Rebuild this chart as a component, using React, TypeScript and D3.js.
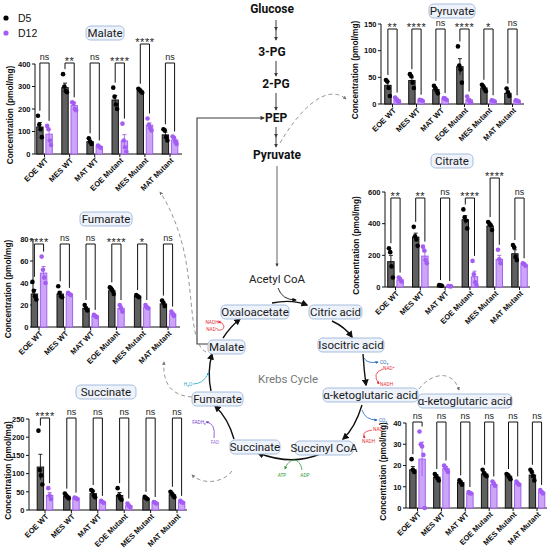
import React from "react";
import * as d3 from "d3";

const categories = ["EOE WT", "MES WT", "MAT WT", "EOE Mutant", "MES Mutant", "MAT Mutant"];

// Malate
const malateD5 = [120, 295, 55, 240, 280, 85];
const malateD12 = [88, 215, 33, 58, 128, 62];
const malateD5Sem = [20, 20, 5, 20, 5, 12];
const malateD12Sem = [20, 15, 3, 28, 10, 6];
const malateD5Pts = [[170, 130, 110, 75], [355, 300, 280, 275], [70, 55, 45], [295, 255, 220, 200], [290, 285, 278, 272], [110, 105, 75, 60]];
const malateD12Pts = [[125, 110, 60, 40], [230, 225, 200, 195], [38, 32, 28], [135, 60, 30, 10], [158, 130, 115, 105], [78, 72, 55, 45]];
const malateSig = ["ns", "**", "ns", "****", "****", "ns"];

// Pyruvate
const pyruvateD5 = [35, 44, 27, 70, 30, 20];
const pyruvateD12 = [8, 7, 9, 8, 6, 6];
const pyruvateD5Sem = [7, 5, 3, 15, 3, 4];
const pyruvateD12Sem = [2, 1, 1, 2, 1, 1];
const pyruvateD5Pts = [[45, 42, 30, 15], [56, 52, 40, 30], [34, 30, 25, 20], [108, 72, 65, 40], [36, 33, 28, 24], [29, 22, 15]];
const pyruvateD12Pts = [[12, 9, 5, 4], [8, 7, 6], [11, 10, 8], [14, 8, 4, 3], [7, 6, 5], [7, 6, 5]];
const pyruvateSig = ["**", "****", "ns", "****", "*", "ns"];

// Fumarate
const fumarateD5 = [30, 30, 17, 33, 28, 21];
const fumarateD12 = [49, 30, 10, 17, 18, 12];
const fumarateD5Sem = [4, 2, 1, 2, 1, 1.5];
const fumarateD12Sem = [6, 1, 1, 2, 1, 1.5];
const fumarateD5Pts = [[41, 33, 28, 25], [37, 31, 28, 27], [20, 17, 15], [36, 35, 33, 30], [29, 28, 27], [24, 22, 19]];
const fumarateD12Pts = [[64, 52, 45, 40], [31, 30, 29], [11, 10, 9], [20, 17, 14], [20, 18, 17], [14, 12, 10]];
const fumarateSig = ["****", "ns", "ns", "****", "*", "ns"];

// Citrate
const citrateD5 = [160, 315, 10, 425, 385, 210];
const citrateD12 = [45, 195, 5, 65, 175, 140];
const citrateD5Sem = [40, 25, 1, 25, 12, 25];
const citrateD12Sem = [8, 30, 1, 35, 25, 5];
const citrateD5Pts = [[245, 220, 130, 60], [380, 320, 300, 260], [12, 10, 8], [490, 440, 420, 370], [410, 400, 390, 360], [265, 250, 190, 170]];
const citrateD12Pts = [[60, 50, 35], [255, 230, 170, 150], [6, 5, 4], [165, 80, 30, 10], [235, 175, 150], [150, 145, 135]];
const citrateSig = ["**", "**", "ns", "****", "****", "ns"];

// Succinate
const succinateD5 = [118, 38, 45, 40, 32, 42];
const succinateD12 = [40, 32, 22, 12, 20, 22];
const succinateD5Sem = [35, 3, 7, 8, 2, 4];
const succinateD12Sem = [8, 1, 1, 3, 1, 1];
const succinateD5Pts = [[218, 110, 95, 70], [45, 40, 35, 32], [55, 52, 40, 35], [60, 40, 32, 28], [36, 33, 30], [50, 45, 40, 35]];
const succinateD12Pts = [[60, 40, 30], [34, 32, 30], [25, 22, 20], [18, 12, 8], [22, 20, 18], [25, 22, 20]];
const succinateSig = ["****", "ns", "ns", "ns", "ns", "ns"];

// alpha-ketoglutaric acid
const akgD5 = [18, 14.5, 12, 16, 15, 15.5];
const akgD12 = [23, 18.5, 7, 11, 11.5, 7.5];
const akgD5Sem = [1.5, 1, 0.8, 0.8, 0.8, 1];
const akgD12Sem = [8, 1, 0.3, 0.7, 0.5, 0.5];
const akgD5Pts = [[23, 18, 17], [16, 15, 14, 13], [13, 12, 11], [18, 16.5, 15.5, 15], [16, 15.5, 14.5, 13.5], [18, 17, 15, 13]];
const akgD12Pts = [[36, 30, 29, 25, 0], [20, 19, 18, 17], [7.5, 7, 6.8], [12.5, 11.5, 10.5], [12.5, 11.5, 11], [8.5, 7.5, 6.8]];
const akgSig = ["ns", "ns", "ns", "ns", "ns", "ns"];

const FONT = "'Liberation Sans', Arial, Helvetica, sans-serif";
const DFONT = "Roboto, 'Liberation Sans', Arial, sans-serif";
const D5_FILL = "#5f5f5f";
const D5_STROKE = "#111";
const D12_FILL = "#cba6f7";
const D12_STROKE = "#a55ff2";
const D12_PT = "#a45df3";
const BOX_FILL = "#edf2fb";
const BOX_STROKE = "#9db5da";

type Layout = {
  max: number; step: number; axisX: number; axisEnd: number; y0: number; yTop: number;
  c0: number; c1: number; titleX: number; titleY: number; titleW: number; labelX: number;
  bracketY: number; highIdx?: number; highY?: number;
};

const layouts: Record<string, Layout> = {
  malate: { max: 400, step: 100, axisX: 35, axisEnd: 182, y0: 154, yTop: 64, c0: 44.5, c1: 170, titleX: 105, titleY: 33, titleW: 38, labelX: 13, bracketY: 63, highIdx: 4, highY: 44 },
  pyruvate: { max: 150, step: 50, axisX: 381, axisEnd: 524, y0: 104, yTop: 24, c0: 392.5, c1: 512.5, titleX: 452, titleY: 11, titleW: 46, labelX: 358, bracketY: 29 },
  fumarate: { max: 80, step: 20, axisX: 33, axisEnd: 180, y0: 327, yTop: 239, c0: 39, c1: 168, titleX: 106, titleY: 219, titleW: 52, labelX: 11, bracketY: 244 },
  citrate: { max: 600, step: 200, axisX: 385, axisEnd: 530, y0: 287, yTop: 192, c0: 395.5, c1: 519.5, titleX: 452, titleY: 161, titleW: 42, labelX: 359, bracketY: 198, highIdx: 4, highY: 178 },
  succinate: { max: 250, step: 50, axisX: 29, axisEnd: 187, y0: 510, yTop: 419, c0: 45, c1: 177, titleX: 106, titleY: 392, titleW: 60, labelX: 11, bracketY: 418 },
  akg: { max: 40, step: 10, axisX: 406, axisEnd: 547, y0: 508, yTop: 423, c0: 417.5, c1: 537, titleX: 465, titleY: 401, titleW: 94, labelX: 386, bracketY: 422 },
};

function BoxLabel({ x, y, w, text, size = 11.5 }: { x: number; y: number; w: number; text: string; size?: number }) {
  return (
    <g>
      <rect x={x - w / 2} y={y - 7} width={w} height={14} rx={4.5} fill={BOX_FILL} stroke={BOX_STROKE} strokeWidth={0.9} />
      <text x={x} y={y + 4} textAnchor="middle" fontFamily={DFONT} fontSize={size} fill="#1a1a1a">{text}</text>
    </g>
  );
}

function Panel({ title, d5, d12, d5Sem, d12Sem, d5Pts, d12Pts, sig, L }: any) {
  const L2 = L as Layout;
  const y = d3.scaleLinear().domain([0, L2.max]).range([L2.y0, L2.yTop]);
  const x = d3.scalePoint<string>().domain(categories).range([L2.c0, L2.c1]);
  const ticks = d3.range(0, L2.max + 1e-9, L2.step);
  const off = 4.6;
  const bw = 6.4;
  return (
    <g>
      <BoxLabel x={L2.titleX} y={L2.titleY} w={L2.titleW} text={title} />
      {/* y axis */}
      <line x1={L2.axisX} x2={L2.axisX} y1={L2.y0} y2={L2.yTop} stroke="#111" strokeWidth={1} />
      {ticks.map((t) => (
        <g key={t}>
          <line x1={L2.axisX - 3} x2={L2.axisX} y1={y(t)} y2={y(t)} stroke="#111" strokeWidth={1} />
          <text x={L2.axisX - 4.5} y={y(t) + 2.8} textAnchor="end" fontFamily={FONT} fontWeight="bold" fontSize={7.5} fill="#111">{t}</text>
        </g>
      ))}
      <text transform={`translate(${L2.labelX},${(L2.y0 + L2.yTop) / 2 + 6}) rotate(-90)`} textAnchor="middle" fontFamily={FONT} fontWeight="bold" fontSize={8.3} fill="#111">Concentration (pmol/mg)</text>
      {/* x axis */}
      <line x1={L2.axisX} x2={L2.axisEnd} y1={L2.y0} y2={L2.y0} stroke="#111" strokeWidth={1} />
      {categories.map((c, i) => {
        const cx = x(c)!;
        const xa = cx - off;
        const xb = cx + off;
        const topA = Math.max(d5[i] + d5Sem[i], ...d5Pts[i]);
        const topB = Math.max(d12[i] + d12Sem[i], ...d12Pts[i]);
        const by = L2.highIdx === i ? L2.highY! : L2.bracketY;
        const legA = Math.min(y(topA) - 5, L2.y0 - 6);
        const legB = Math.min(y(topB) - 5, L2.y0 - 6);
        const isStar = sig[i] !== "ns";
        return (
          <g key={c}>
            <line x1={cx} x2={cx} y1={L2.y0} y2={L2.y0 + 3} stroke="#111" strokeWidth={1} />
            {/* D5 */}
            <rect x={xa - bw / 2} y={y(d5[i])} width={bw} height={L2.y0 - y(d5[i])} fill={D5_FILL} stroke={D5_STROKE} strokeWidth={1} />
            <line x1={xa} x2={xa} y1={y(d5[i] - d5Sem[i])} y2={y(d5[i] + d5Sem[i])} stroke={D5_STROKE} strokeWidth={0.9} />
            <line x1={xa - 2} x2={xa + 2} y1={y(d5[i] + d5Sem[i])} y2={y(d5[i] + d5Sem[i])} stroke={D5_STROKE} strokeWidth={0.9} />
            {d5Pts[i].map((p: number, j: number) => (
              <circle key={j} cx={xa + (j - (d5Pts[i].length - 1) / 2) * 1.3} cy={y(p)} r={2.3} fill="#000" />
            ))}
            {/* D12 */}
            <rect x={xb - bw / 2} y={y(d12[i])} width={bw} height={L2.y0 - y(d12[i])} fill={D12_FILL} stroke={D12_STROKE} strokeWidth={1} />
            <line x1={xb} x2={xb} y1={y(Math.max(0, d12[i] - d12Sem[i]))} y2={y(d12[i] + d12Sem[i])} stroke={D12_STROKE} strokeWidth={0.9} />
            <line x1={xb - 2} x2={xb + 2} y1={y(d12[i] + d12Sem[i])} y2={y(d12[i] + d12Sem[i])} stroke={D12_STROKE} strokeWidth={0.9} />
            {d12Pts[i].map((p: number, j: number) => (
              <circle key={j} cx={xb + (j - (d12Pts[i].length - 1) / 2) * 1.3} cy={y(p)} r={2.3} fill={D12_PT} />
            ))}
            {/* bracket */}
            <path d={`M${xa},${legA}V${by}H${xb}V${legB}`} fill="none" stroke="#111" strokeWidth={1} />
            <text x={cx} y={isStar ? by + 1.5 : by - 3} textAnchor="middle" fontFamily={FONT} fontSize={isStar ? 11 : 9} letterSpacing={isStar ? 0.6 : 0} fill="#222">{sig[i]}</text>
            {/* x label */}
            <text transform={`translate(${cx + 4},${L2.y0 + 7}) rotate(-45)`} textAnchor="end" fontFamily={FONT} fontWeight="bold" fontSize={7.6} fill="#111">{c}</text>
          </g>
        );
      })}
    </g>
  );
}

function Pathway() {
  const dk = "#3a3a3a";
  return (
    <g>
      <defs>
        <marker id="ah" viewBox="0 0 10 10" refX="8" refY="5" markerWidth="5" markerHeight="5" orient="auto">
          <path d="M0,0L10,5L0,10z" fill="#111" />
        </marker>
        <marker id="ahg" viewBox="0 0 10 10" refX="8" refY="5" markerWidth="4" markerHeight="4" orient="auto">
          <path d="M0,0L10,5L0,10z" fill={dk} />
        </marker>
        <marker id="ahd" viewBox="0 0 10 10" refX="8" refY="5" markerWidth="4" markerHeight="4" orient="auto">
          <path d="M0,0L10,5L0,10z" fill="#777" />
        </marker>
        <marker id="ahr" viewBox="0 0 10 10" refX="8" refY="5" markerWidth="4" markerHeight="4" orient="auto">
          <path d="M0,0L10,5L0,10z" fill="#e8333d" />
        </marker>
        <marker id="ahb" viewBox="0 0 10 10" refX="8" refY="5" markerWidth="4" markerHeight="4" orient="auto">
          <path d="M0,0L10,5L0,10z" fill="#2266b8" />
        </marker>
        <marker id="ahgr" viewBox="0 0 10 10" refX="8" refY="5" markerWidth="4" markerHeight="4" orient="auto">
          <path d="M0,0L10,5L0,10z" fill="#2f9a35" />
        </marker>
        <marker id="ahp" viewBox="0 0 10 10" refX="8" refY="5" markerWidth="4" markerHeight="4" orient="auto">
          <path d="M0,0L10,5L0,10z" fill="#7a3fcc" />
        </marker>
        <marker id="dotc" viewBox="0 0 10 10" refX="5" refY="5" markerWidth="3" markerHeight="3">
          <circle cx="5" cy="5" r="5" fill="#29a6c9" />
        </marker>
      </defs>
      {/* Glycolysis */}
      <text x={272} y={13} textAnchor="middle" fontFamily={DFONT} fontWeight="bold" fontSize={12} fill="#111">Glucose</text>
      <line x1={276} x2={276} y1={20} y2={30} stroke={dk} strokeWidth={1} markerEnd="url(#ahg)" />
      <line x1={276} x2={276} y1={30} y2={40} stroke={dk} strokeWidth={1} markerEnd="url(#ahg)" />
      <text x={272} y={56} textAnchor="middle" fontFamily={DFONT} fontWeight="bold" fontSize={12} fill="#111">3-PG</text>
      <line x1={276} x2={276} y1={61} y2={76} stroke={dk} strokeWidth={1} markerEnd="url(#ahg)" />
      <text x={276} y={88} textAnchor="middle" fontFamily={DFONT} fontWeight="bold" fontSize={12} fill="#111">2-PG</text>
      <line x1={276} x2={276} y1={93} y2={110} stroke={dk} strokeWidth={1} markerEnd="url(#ahg)" />
      <text x={276} y={122} textAnchor="middle" fontFamily={DFONT} fontWeight="bold" fontSize={12} fill="#111">PEP</text>
      <line x1={276} x2={276} y1={127} y2={137} stroke={dk} strokeWidth={1} markerEnd="url(#ahg)" />
      <line x1={276} x2={276} y1={137} y2={147} stroke={dk} strokeWidth={1} markerEnd="url(#ahg)" />
      <text x={277} y={159} textAnchor="middle" fontFamily={DFONT} fontWeight="bold" fontSize={12} fill="#111">Pyruvate</text>
      <line x1={277} x2={277} y1={166} y2={266} stroke={dk} strokeWidth={0.8} markerEnd="url(#ahg)" />
      <text x={277} y={283} textAnchor="middle" fontFamily={DFONT} fontSize={11.5} fill="#222">Acetyl CoA</text>
      {/* Malate -> PEP loop */}
      <path d="M208,344H197V118H264" fill="none" stroke={dk} strokeWidth={1.1} markerEnd="url(#ahg)" />

      {/* Krebs arrows */}
      <path d="M278,288 Q282,300 296,300" fill="none" stroke="#111" strokeWidth={0.9} markerEnd="url(#ah)" />
      <path d="M272,303 Q292,299 307,305" fill="none" stroke="#111" strokeWidth={1.4} markerEnd="url(#ah)" />
      <path d="M332,321 Q345,327 352,337" fill="none" stroke="#111" strokeWidth={1.4} markerEnd="url(#ah)" />
      <path d="M363,354 Q364,370 366,385" fill="none" stroke="#111" strokeWidth={1.4} markerEnd="url(#ah)" />
      <path d="M362,405 Q355,428 343,439" fill="none" stroke="#111" strokeWidth={1.4} markerEnd="url(#ah)" />
      <path d="M320,454 Q292,466 258,453" fill="none" stroke="#111" strokeWidth={1.4} markerEnd="url(#ah)" />
      <path d="M234,439 Q228,418 215,406" fill="none" stroke="#111" strokeWidth={1.4} markerEnd="url(#ah)" />
      <path d="M211,391 Q207,372 212,354" fill="none" stroke="#111" strokeWidth={1.4} markerEnd="url(#ah)" />
      <path d="M223,338 Q230,327 240,319" fill="none" stroke="#111" strokeWidth={1.4} markerEnd="url(#ah)" />

      {/* cofactors */}
      <text x={212} y={324} textAnchor="middle" fontFamily={DFONT} fontSize={4.8} fill="#e8333d">NADH</text>
      <text x={212} y={331} textAnchor="middle" fontFamily={DFONT} fontSize={4.8} fill="#e8333d">NAD⁺</text>
      <path d="M217,330 Q224,331 224,326 Q223,322 218,322" fill="none" stroke="#e8333d" strokeWidth={0.8} markerEnd="url(#ahr)" />

      <path d="M364,358 Q367,364 378,362" fill="none" stroke="#2266b8" strokeWidth={0.8} markerEnd="url(#ahb)" />
      <text x={380} y={364} fontFamily={DFONT} fontSize={4.8} fill="#2266b8">CO₂</text>
      <text x={383} y={370} fontFamily={DFONT} fontSize={4.8} fill="#e8333d">NAD⁺</text>
      <path d="M383,369 Q371,373 379,384" fill="none" stroke="#e8333d" strokeWidth={0.8} markerEnd="url(#ahr)" />
      <text x={380} y={386} fontFamily={DFONT} fontSize={4.8} fill="#e8333d">NADH</text>

      <path d="M362,410 Q365,420 377,420" fill="none" stroke="#2266b8" strokeWidth={0.8} markerEnd="url(#ahb)" />
      <text x={379} y={422} fontFamily={DFONT} fontSize={4.8} fill="#2266b8">CO₂</text>
      <text x={373} y={431} fontFamily={DFONT} fontSize={4.8} fill="#e8333d">NAD⁺</text>
      <path d="M372,430 Q360,432 365,438" fill="none" stroke="#e8333d" strokeWidth={0.8} markerEnd="url(#ahr)" />
      <text x={362} y={443} fontFamily={DFONT} fontSize={4.8} fill="#e8333d">NADH</text>

      <path d="M302,470 C300,457 289,457 285,469" fill="none" stroke="#2f9a35" strokeWidth={0.8} markerEnd="url(#ahgr)" />
      <text x={282} y={477} textAnchor="middle" fontFamily={DFONT} fontSize={4.8} fill="#2f9a35">ATP</text>
      <text x={305} y={477} textAnchor="middle" fontFamily={DFONT} fontSize={4.8} fill="#2f9a35">ADP</text>

      <path d="M214,438 Q216,423 206,422" fill="none" stroke="#7a3fcc" strokeWidth={0.8} markerEnd="url(#ahp)" />
      <text x={199} y={424} textAnchor="middle" fontFamily={DFONT} fontSize={4.8} fill="#7a3fcc">FADH₂</text>
      <text x={215} y={444} textAnchor="middle" fontFamily={DFONT} fontSize={4.8} fill="#a374e0">FAD</text>

      <text x={188} y={386} textAnchor="middle" fontFamily={DFONT} fontSize={4.8} fill="#29a6c9">H₂O</text>
      <path d="M193,384 Q203,384 208,374" fill="none" stroke="#29a6c9" strokeWidth={0.8} markerEnd="url(#dotc)" />

      <text x={288} y={383} textAnchor="middle" fontFamily={DFONT} fontSize={11.5} fill="#777">Krebs Cycle</text>

      {/* dashed connectors */}
      <path d="M280,143 C298,112 326,82 346,99" fill="none" stroke="#8a8a8a" strokeWidth={0.9} strokeDasharray="4,3" markerEnd="url(#ahd)" />
      <path d="M206,352 C192,345 193,310 188,275 C184,240 172,210 160,192" fill="none" stroke="#8a8a8a" strokeWidth={0.9} strokeDasharray="4,3" markerEnd="url(#ahd)" />
      <path d="M192,397 C176,396 162,388 164,362" fill="none" stroke="#8a8a8a" strokeWidth={0.9} strokeDasharray="4,3" markerEnd="url(#ahd)" />
      <path d="M232,471 C224,482 204,486 192,475" fill="none" stroke="#8a8a8a" strokeWidth={0.9} strokeDasharray="4,3" markerEnd="url(#ahd)" />
      <path d="M419,389 C430,374 452,368 459,390" fill="none" stroke="#8a8a8a" strokeWidth={0.9} strokeDasharray="4,3" markerEnd="url(#ahd)" />

      {/* Krebs boxes */}
      <BoxLabel x={255} y={312} w={68} text="Oxaloacetate" />
      <BoxLabel x={335.5} y={312} w={53} text="Citric acid" />
      <BoxLabel x={351} y={345} w={66} text="Isocitric acid" />
      <BoxLabel x={370.5} y={395} w={95} text="α-ketoglutaric acid" />
      <BoxLabel x={324} y={448} w={58} text="Succinyl CoA" />
      <BoxLabel x={255} y={447} w={50} text="Succinate" />
      <BoxLabel x={217.5} y={399} w={51} text="Fumarate" />
      <BoxLabel x={226.5} y={347} w={37} text="Malate" />
    </g>
  );
}

export default function App() {
  return (
    <svg width={550} height={553} style={{ position: "absolute", left: 0, top: 0, background: "#fff" }}>
      <rect width={550} height={553} fill="#fff" />
      {/* legend */}
      <circle cx={6} cy={18} r={2.6} fill="#000" />
      <text x={18} y={22} fontFamily={FONT} fontSize={10.5} fill="#111">D5</text>
      <circle cx={6} cy={33} r={2.6} fill={D12_PT} />
      <text x={18} y={37} fontFamily={FONT} fontSize={10.5} fill="#111">D12</text>

      <Pathway />
      <Panel title="Malate" d5={malateD5} d12={malateD12} d5Sem={malateD5Sem} d12Sem={malateD12Sem} d5Pts={malateD5Pts} d12Pts={malateD12Pts} sig={malateSig} L={layouts.malate} />
      <Panel title="Pyruvate" d5={pyruvateD5} d12={pyruvateD12} d5Sem={pyruvateD5Sem} d12Sem={pyruvateD12Sem} d5Pts={pyruvateD5Pts} d12Pts={pyruvateD12Pts} sig={pyruvateSig} L={layouts.pyruvate} />
      <Panel title="Fumarate" d5={fumarateD5} d12={fumarateD12} d5Sem={fumarateD5Sem} d12Sem={fumarateD12Sem} d5Pts={fumarateD5Pts} d12Pts={fumarateD12Pts} sig={fumarateSig} L={layouts.fumarate} />
      <Panel title="Citrate" d5={citrateD5} d12={citrateD12} d5Sem={citrateD5Sem} d12Sem={citrateD12Sem} d5Pts={citrateD5Pts} d12Pts={citrateD12Pts} sig={citrateSig} L={layouts.citrate} />
      <Panel title="Succinate" d5={succinateD5} d12={succinateD12} d5Sem={succinateD5Sem} d12Sem={succinateD12Sem} d5Pts={succinateD5Pts} d12Pts={succinateD12Pts} sig={succinateSig} L={layouts.succinate} />
      <Panel title="α-ketoglutaric acid" d5={akgD5} d12={akgD12} d5Sem={akgD5Sem} d12Sem={akgD12Sem} d5Pts={akgD5Pts} d12Pts={akgD12Pts} sig={akgSig} L={layouts.akg} />
    </svg>
  );
}
